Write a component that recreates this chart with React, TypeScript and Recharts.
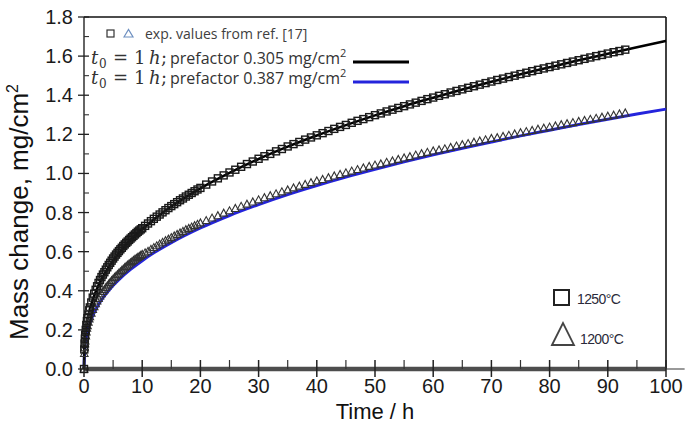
import React from 'react';
import { ComposedChart, Line, Scatter, XAxis, YAxis, ReferenceLine, Customized } from 'recharts';

document.body.style.margin = '0';

// axis ticks
const xTicks = [0, 5, 10, 15, 20, 25, 30, 35, 40, 45, 50, 55, 60, 65, 70, 75, 80, 85, 90, 95, 100];
const yTicks = [0, 0.1, 0.2, 0.3, 0.4, 0.5, 0.6, 0.7, 0.8, 0.9, 1.0, 1.1, 1.2, 1.3, 1.4, 1.5, 1.6, 1.7, 1.8];

// model curves (t0 = 1 h)
const fitTimes = [0, 0.1, 0.25, 0.5, 1, 1.5, 2, 3, 4, 5, 6, 8, 10, 12, 15, 20, 25, 30, 35, 40, 45, 50, 55, 60, 65, 70, 75, 80, 85, 90, 95, 100];
const fit0305 = [0, 0.13, 0.183, 0.236, 0.305, 0.354, 0.394, 0.458, 0.509, 0.553, 0.592, 0.658, 0.715, 0.765, 0.831, 0.924, 1.003, 1.074, 1.137, 1.194, 1.247, 1.297, 1.344, 1.387, 1.429, 1.469, 1.507, 1.543, 1.579, 1.612, 1.645, 1.678];
const fit0387 = [0, 0.1, 0.14, 0.18, 0.235, 0.272, 0.303, 0.353, 0.392, 0.427, 0.457, 0.509, 0.554, 0.594, 0.646, 0.721, 0.785, 0.841, 0.892, 0.938, 0.981, 1.021, 1.059, 1.095, 1.129, 1.161, 1.192, 1.221, 1.25, 1.277, 1.304, 1.329];

// experimental values (ref. [17])
const expTimes = [
  0, 0.05, 0.1, 0.15, 0.2, 0.3, 0.4, 0.5, 0.6, 0.75, 0.9, 1, 1.25, 1.5, 1.75, 2, 2.25, 2.5, 2.75, 3,
  3.25, 3.5, 3.75, 4, 4.25, 4.5, 4.75, 5, 5.25, 5.5, 5.75, 6, 6.25, 6.5, 6.75, 7, 7.25, 7.5, 7.75, 8,
  8.25, 8.5, 8.75, 9, 9.25, 9.5, 9.75, 10, 10.5, 11, 11.5, 12, 12.5, 13, 13.5, 14, 14.5, 15, 15.5, 16,
  16.5, 17, 17.5, 18, 18.5, 19, 19.5, 20, 21, 22, 23, 24, 25, 26, 27, 28, 29, 30,
  31, 32, 33, 34, 35, 36, 37, 38, 39, 40, 41, 42, 43, 44, 45, 46, 47, 48, 49, 50,
  51, 52, 53, 54, 55, 56, 57, 58, 59, 60, 61, 62, 63, 64, 65, 66, 67, 68, 69, 70,
  71, 72, 73, 74, 75, 76, 77, 78, 79, 80, 81, 82, 83, 84, 85, 86, 87, 88, 89, 90,
  91, 92, 93,
];
const exp1250 = [
  0, 0.1, 0.13, 0.155, 0.175, 0.2, 0.225, 0.245, 0.26, 0.28, 0.3, 0.315, 0.34, 0.365, 0.385, 0.405, 0.423, 0.44, 0.455, 0.47,
  0.483, 0.495, 0.508, 0.52, 0.532, 0.543, 0.554, 0.565, 0.575, 0.585, 0.594, 0.603, 0.612, 0.62, 0.629, 0.637, 0.645, 0.652, 0.66, 0.667,
  0.674, 0.681, 0.688, 0.695, 0.702, 0.708, 0.714, 0.72, 0.732, 0.744, 0.756, 0.768, 0.779, 0.79, 0.801, 0.812, 0.823, 0.833, 0.843, 0.853,
  0.863, 0.872, 0.882, 0.891, 0.9, 0.909, 0.918, 0.926, 0.943, 0.959, 0.975, 0.99, 1.005, 1.019, 1.034, 1.048, 1.061, 1.075,
  1.088, 1.1, 1.113, 1.125, 1.138, 1.15, 1.161, 1.173, 1.184, 1.195, 1.206, 1.217, 1.228, 1.238, 1.248, 1.259, 1.269, 1.278, 1.288, 1.298,
  1.307, 1.317, 1.326, 1.335, 1.344, 1.353, 1.362, 1.371, 1.38, 1.388, 1.397, 1.405, 1.414, 1.422, 1.43, 1.438, 1.446, 1.454, 1.462, 1.47,
  1.478, 1.485, 1.493, 1.5, 1.508, 1.515, 1.523, 1.53, 1.537, 1.544, 1.551, 1.558, 1.565, 1.572, 1.579, 1.586, 1.593, 1.6, 1.606, 1.613,
  1.62, 1.626, 1.633,
];
const exp1200 = [
  0, 0.08, 0.11, 0.13, 0.145, 0.17, 0.19, 0.21, 0.222, 0.24, 0.257, 0.268, 0.287, 0.305, 0.32, 0.335, 0.349, 0.362, 0.374, 0.386,
  0.397, 0.407, 0.417, 0.426, 0.435, 0.444, 0.453, 0.461, 0.469, 0.476, 0.484, 0.491, 0.498, 0.505, 0.512, 0.519, 0.526, 0.532, 0.538, 0.544,
  0.55, 0.556, 0.562, 0.567, 0.572, 0.577, 0.582, 0.587, 0.595, 0.603, 0.613, 0.622, 0.631, 0.64, 0.649, 0.657, 0.665, 0.673, 0.681, 0.689,
  0.697, 0.705, 0.713, 0.72, 0.727, 0.734, 0.741, 0.748, 0.76, 0.773, 0.785, 0.798, 0.81, 0.822, 0.833, 0.844, 0.855, 0.866,
  0.877, 0.887, 0.897, 0.907, 0.917, 0.927, 0.936, 0.945, 0.954, 0.963, 0.97, 0.979, 0.988, 0.996, 1.004, 1.013, 1.021, 1.029, 1.037, 1.044,
  1.05, 1.058, 1.065, 1.073, 1.08, 1.087, 1.095, 1.102, 1.109, 1.116, 1.121, 1.127, 1.134, 1.141, 1.148, 1.154, 1.161, 1.167, 1.173, 1.18,
  1.184, 1.19, 1.196, 1.203, 1.209, 1.215, 1.221, 1.227, 1.232, 1.238, 1.244, 1.25, 1.255, 1.261, 1.267, 1.272, 1.278, 1.283, 1.289, 1.294,
  1.299, 1.305, 1.31,
];

const zip = (ts: number[], ms: number[]) => ts.map((t, i) => ({ t, m: ms[i] }));
const line305 = zip(fitTimes, fit0305);
const line387 = zip(fitTimes, fit0387);
const pts1250 = zip(expTimes, exp1250);
const pts1200 = zip(expTimes, exp1200);

const tickFont = 'Liberation Sans, Arial, sans-serif';
const legFont = 'Open Sans, Noto Sans, sans-serif';
const mathFont = 'DejaVu Serif, serif';

const SquareDot = (props: any) => {
  const { cx, cy } = props;
  return <rect x={cx - 3.5} y={cy - 3.5} width={7} height={7} fill="none" stroke="#1a1a1a" strokeWidth={1.4} />;
};

const TriangleDot = (props: any) => {
  const { cx, cy } = props;
  return <path d={`M${cx - 3.8},${cy + 3.2} L${cx},${cy - 3.8} L${cx + 3.8},${cy + 3.2} Z`} fill="none" stroke="#333" strokeWidth={1.1} />;
};

const XTick = (props: any) => {
  const { x, y, payload } = props;
  const v = payload.value;
  if (v % 10 !== 0) {
    return <line x1={x} x2={x} y1={y} y2={y - 9} stroke="#333" strokeWidth={1.2} />;
  }
  return (
    <g>
      <line x1={x} x2={x} y1={y - 9} y2={y + 8} stroke="#222" strokeWidth={1.5} />
      <text x={x} y={y + 24} textAnchor="middle" fontFamily={tickFont} fontSize={20} fill="#1a1a1a">
        {v}
      </text>
    </g>
  );
};

const YTick = (props: any) => {
  const { x, y, payload } = props;
  const v = payload.value;
  if (Math.round(v * 10) % 2 !== 0) {
    return <line x1={x} x2={x + 5} y1={y} y2={y} stroke="#333" strokeWidth={1.1} />;
  }
  return (
    <g>
      <line x1={x - 6} x2={x + 5} y1={y} y2={y} stroke="#222" strokeWidth={1.3} />
      <text x={x - 11} y={y + 7} textAnchor="end" fontFamily={tickFont} fontSize={20} fill="#1a1a1a">
        {v.toFixed(1)}
      </text>
    </g>
  );
};

const ModelRow = ({ y, pref, color }: { y: number; pref: string; color: string }) => (
  <g fill="#333">
    <text x={91} y={y} fontFamily={mathFont} fontStyle="italic" fontSize={18}>t</text>
    <text x={99} y={y + 4} fontFamily={mathFont} fontSize={12}>0</text>
    <text x={113} y={y} fontFamily={mathFont} fontSize={18}>=</text>
    <text x={134} y={y} fontFamily={mathFont} fontSize={18}>1</text>
    <text x={149} y={y} fontFamily={mathFont} fontStyle="italic" fontSize={18}>h</text>
    <text x={161} y={y} fontFamily={mathFont} fontSize={18}>;</text>
    <text x={170} y={y} fontFamily={legFont} fontSize={16}>
      prefactor {pref} mg/cm<tspan dy={-7} fontSize={11}>2</tspan>
    </text>
    <line x1={353} x2={409} y1={y - 2} y2={y - 2} stroke={color} strokeWidth={3} />
  </g>
);

const Overlay = () => (
  <g>
    {/* legend top-left */}
    <rect x={107} y={30} width={7} height={7} fill="none" stroke="#333" strokeWidth={1.2} />
    <path d="M124,37 L128.5,29.5 L133,37 Z" fill="none" stroke="#6d8fc0" strokeWidth={1.2} />
    <text x={145} y={39} fontFamily={legFont} fontSize={14} fill="#404040">exp. values from ref. [17]</text>
    <ModelRow y={64} pref="0.305" color="#000" />
    <ModelRow y={84} pref="0.387" color="#2424dc" />

    {/* legend bottom-right */}
    <rect x={554} y={290} width={15} height={15} fill="none" stroke="#222" strokeWidth={2} />
    <text x={577} y={304} fontFamily={tickFont} fontSize={14} letterSpacing={-0.6} fill="#2a2a3a">1250°C</text>
    <path d="M552,345 L563,323 L574,345 Z" fill="none" stroke="#444" strokeWidth={1.8} />
    <text x={580} y={344} fontFamily={tickFont} fontSize={14} letterSpacing={-0.6} fill="#2a2a3a">1200°C</text>

    {/* axis titles */}
    <text transform="translate(28,212) rotate(-90)" textAnchor="middle" fontFamily={tickFont} fontSize={26} fill="#111">
      Mass change, mg/cm<tspan dy={-10} fontSize={16}>2</tspan>
    </text>
    <text x={375} y={419} textAnchor="middle" fontFamily={tickFont} fontSize={22} fill="#111">
      Time / h
    </text>
  </g>
);

export default function App() {
  return (
    <div style={{ width: 685, height: 433, background: '#fff' }}>
      <ComposedChart width={685} height={433} margin={{ top: 17, right: 19, bottom: 0, left: 0 }}>
        <XAxis
          type="number"
          dataKey="t"
          domain={[0, 100]}
          ticks={xTicks}
          interval={0}
          height={64}
          tickSize={0}
          tickMargin={0}
          tickLine={false}
          tick={<XTick />}
          axisLine={{ stroke: '#4d4d4d', strokeWidth: 4.5 }}
        />
        <YAxis
          type="number"
          domain={[0, 1.8]}
          ticks={yTicks}
          interval={0}
          width={84}
          tickSize={0}
          tickMargin={0}
          tickLine={false}
          tick={<YTick />}
          axisLine={{ stroke: '#111', strokeWidth: 1.3 }}
        />
        <ReferenceLine y={1.8} stroke="#111" strokeWidth={1.3} />
        <ReferenceLine x={100} stroke="#111" strokeWidth={1.6} />
        <ReferenceLine
          segment={[{ x: 100, y: 0 }, { x: 103.2, y: 0 }]}
          ifOverflow="visible"
          stroke="#777"
          strokeWidth={1.5}
        />
        <Scatter data={pts1200} dataKey="m" shape={TriangleDot} isAnimationActive={false} />
        <Scatter data={pts1250} dataKey="m" shape={SquareDot} isAnimationActive={false} />
        <Line data={line387} dataKey="m" type="monotone" stroke="#2424dc" strokeWidth={3} dot={false} isAnimationActive={false} />
        <Line data={line305} dataKey="m" type="monotone" stroke="#000" strokeWidth={2.6} dot={false} isAnimationActive={false} />
        <Customized component={Overlay} />
      </ComposedChart>
    </div>
  );
}
